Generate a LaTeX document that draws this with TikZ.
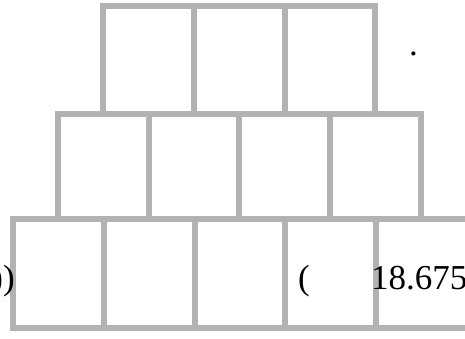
\documentclass[tikz,border=0pt]{standalone}
\usepackage{fontspec}
\setmainfont{Liberation Serif}
\usetikzlibrary{positioning}

\begin{document}
\begin{tikzpicture}[x=1pt, y=1pt,
    cell/.style={rectangle, draw=gray!60, line width=6pt, inner sep=0pt,
        outer sep=0pt, minimum width=90.7pt},
    top/.style={cell, minimum height=107.5pt},
    mid/.style={cell, minimum height=105pt},
    low/.style={cell, minimum height=109pt},
    lbl/.style={inner sep=0pt, font=\fontsize{35}{42}\selectfont},
    node distance=0pt]
\useasboundingbox (0,0) rectangle (465,338);
% top row
\node[top] (t1) at (148.5,277.75) {};
\node[top, right=of t1] (t2) {};
\node[top, right=of t2] (t3) {};
% middle row
\node[mid] (m1) at (103.25,171.5) {};
\node[mid, right=of m1] (m2) {};
\node[mid, right=of m2] (m3) {};
\node[mid, right=of m3] (m4) {};
% bottom row
\node[low] (b1) at (58.5,64.5) {};
\node[low, right=of b1] (b2) {};
\node[low, right=of b2] (b3) {};
\node[low, right=of b3] (b4) {};
\node[low, right=of b4, minimum width=96pt] (b5) {};
% texts
\node[lbl, anchor=base east] (lpar) at (15,49) {0))};
\node[lbl, anchor=base west] (opar) at (298,49) {(};
\node[lbl, anchor=base west] (val) at (371,49) {18.675};
\node[lbl, anchor=base west] (dot) at (409,282.5) {.};
\end{tikzpicture}
\end{document}
